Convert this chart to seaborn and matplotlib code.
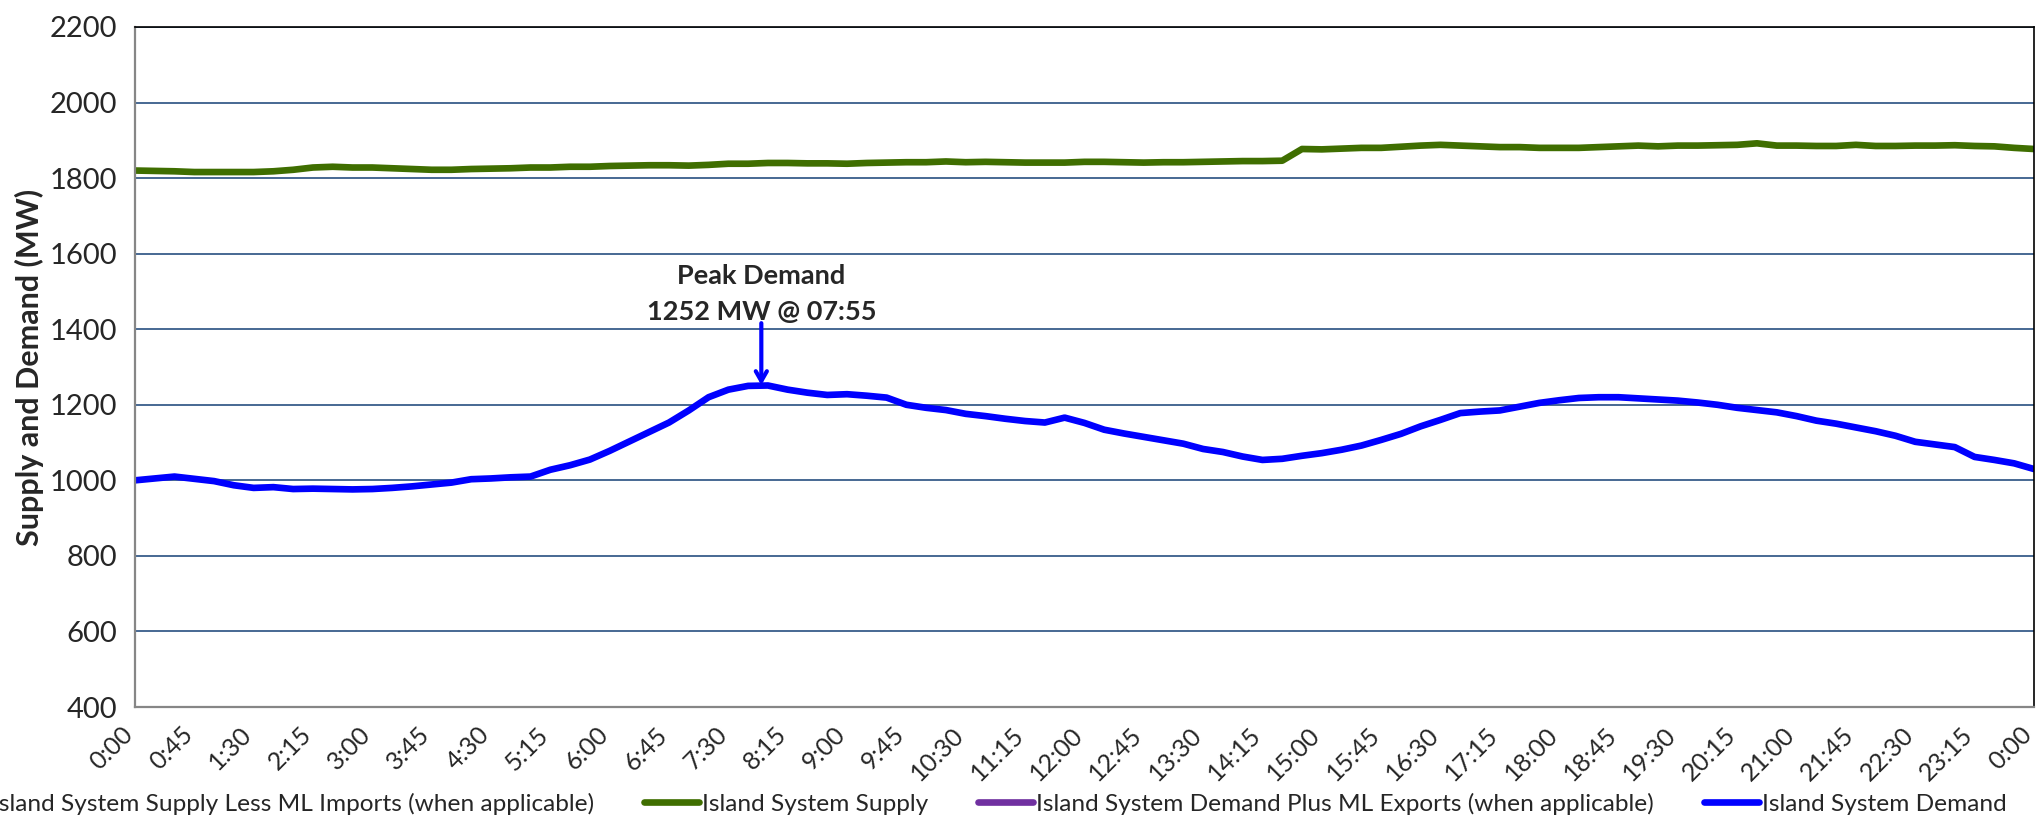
import matplotlib
matplotlib.use("Agg")
import matplotlib.pyplot as plt
from matplotlib.ticker import MultipleLocator, FuncFormatter
import numpy as np
import pandas as pd
import seaborn as sns

# 15-minute samples, 0:00 -> 24:00
minutes = np.arange(0, 24 * 60 + 1, 15)

supply = [
    1820, 1819, 1818, 1816,
    1816, 1816, 1816, 1818,
    1822, 1828, 1830, 1828,
    1828, 1826, 1824, 1822,
    1822, 1824, 1825, 1826,
    1828, 1828, 1830, 1830,
    1832, 1833, 1834, 1834,
    1833, 1835, 1838, 1838,
    1840, 1840, 1839, 1839,
    1838, 1840, 1841, 1842,
    1842, 1844, 1842, 1843,
    1842, 1841, 1841, 1841,
    1843, 1843, 1842, 1841,
    1842, 1842, 1843, 1844,
    1845, 1845, 1846, 1877,
    1876, 1878, 1880, 1880,
    1883, 1886, 1888, 1886,
    1884, 1882, 1882, 1880,
    1880, 1880, 1882, 1884,
    1886, 1884, 1886, 1886,
    1887, 1888, 1892, 1886,
    1886, 1885, 1885, 1888,
    1885, 1885, 1886, 1886,
    1887, 1885, 1884, 1880,
    1877,
]

demand = [
    1000, 1005, 1010, 1004,
    998, 987, 980, 982,
    977, 978, 977, 976,
    977, 980, 984, 989,
    994, 1003, 1005, 1008,
    1010, 1028, 1040, 1055,
    1078, 1103, 1128, 1153,
    1185, 1220, 1240, 1250,
    1251, 1240, 1232, 1226,
    1228, 1224, 1219, 1200,
    1192, 1186, 1176, 1170,
    1163, 1157, 1153, 1166,
    1152, 1134, 1124, 1115,
    1106, 1097, 1083, 1075,
    1063, 1054, 1057, 1065,
    1072, 1081, 1092, 1107,
    1123, 1143, 1160, 1178,
    1182, 1185, 1195, 1205,
    1212, 1218, 1220, 1220,
    1217, 1214, 1211, 1206,
    1200, 1192, 1186, 1180,
    1170, 1158, 1150, 1140,
    1130, 1118, 1102, 1095,
    1088, 1062, 1054, 1045,
    1030,
]

peak_minute = 7 * 60 + 55
peak_value = 1252
peak_text = "Peak Demand\n1252 MW @ 07:55"

labels = [
    "Island System Supply Less ML Imports (when applicable)",
    "Island System Supply",
    "Island System Demand Plus ML Exports (when applicable)",
    "Island System Demand",
]

df = pd.DataFrame({"minute": minutes, "supply": supply, "demand": demand})

sns.set_style("white")
plt.rcParams["font.family"] = ["Lato", "DejaVu Sans"]

fig = plt.figure(figsize=(20.38, 8.17), dpi=100)
ax = fig.add_axes([0.0662, 0.1346, 0.9318, 0.8324])

green = "#3f6e00"
blue = "#0000ff"
purple = "#7030a0"

# series with no data today still show in the legend
h1, = ax.plot([], [], color="#c0504d", lw=4.8)
sns.lineplot(data=df, x="minute", y="supply", ax=ax, color=green, lw=4.8)
h3, = ax.plot([], [], color=purple, lw=4.8)
sns.lineplot(data=df, x="minute", y="demand", ax=ax, color=blue, lw=4.8)
h2, h4 = ax.lines[1], ax.lines[3]

ax.set_xlim(0, 1440)
ax.set_ylim(400, 2200)
ax.yaxis.set_major_locator(MultipleLocator(200))
ax.xaxis.set_major_locator(MultipleLocator(45))
ax.xaxis.set_minor_locator(MultipleLocator(5))
ax.xaxis.set_major_formatter(
    FuncFormatter(lambda v, p: f"{int(v) // 60 % 24}:{int(v) % 60:02d}"))

ax.grid(axis="y", color="#385d8a", lw=1.3)
ax.set_axisbelow(True)
for s in ["left", "bottom"]:
    ax.spines[s].set_color("#868686")
    ax.spines[s].set_linewidth(1.6)
for s in ["top", "right"]:
    ax.spines[s].set_color("black")
    ax.spines[s].set_linewidth(1.2)

ax.tick_params(axis="y", which="major", direction="out", length=7, width=1.4,
               color="#868686", labelsize=21, pad=6)
ax.tick_params(axis="x", which="both", direction="out", length=6, width=1.2,
               color="#868686", labelsize=18, pad=15)
plt.setp(ax.get_xticklabels(), rotation=45, ha="right", va="baseline",
         rotation_mode="anchor")

ax.set_xlabel("")
ax.set_ylabel("Supply and Demand (MW)", fontsize=22, fontweight="bold")
ax.yaxis.set_label_coords(-0.048, 0.5)

ax.text(peak_minute, 1494, peak_text, ha="center", va="center",
        fontsize=19.5, fontweight="bold", linespacing=1.6)
ax.annotate("", xy=(peak_minute, peak_value), xytext=(peak_minute, 1416),
            arrowprops=dict(arrowstyle="->,head_length=0.7,head_width=0.4",
                            color=blue, lw=3, shrinkA=0, shrinkB=0))

fig.legend([h1, h2, h3, h4], labels, loc="center left", ncol=4,
           bbox_to_anchor=(-0.0325, 0.016), frameon=False, fontsize=17.6,
           handlelength=2.24, handletextpad=0.13, columnspacing=2.05,
           borderpad=0, borderaxespad=0)

fig.savefig("out.png", dpi=100)
